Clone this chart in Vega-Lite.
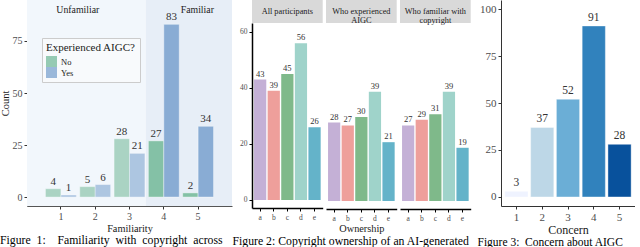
{
  "$schema": "https://vega.github.io/schema/vega-lite/v6.json",
  "padding": 0,
  "background": "#ffffff",
  "datasets": {
    "fam": [
      {"fam": "1", "exp": "No", "n": 4, "region": "Unfamiliar"},
      {"fam": "1", "exp": "Yes", "n": 1, "region": "Unfamiliar"},
      {"fam": "2", "exp": "No", "n": 5, "region": "Unfamiliar"},
      {"fam": "2", "exp": "Yes", "n": 6, "region": "Unfamiliar"},
      {"fam": "3", "exp": "No", "n": 28, "region": "Unfamiliar"},
      {"fam": "3", "exp": "Yes", "n": 21, "region": "Unfamiliar"},
      {"fam": "4", "exp": "No", "n": 27, "region": "Familiar"},
      {"fam": "4", "exp": "Yes", "n": 83, "region": "Familiar"},
      {"fam": "5", "exp": "No", "n": 2, "region": "Familiar"},
      {"fam": "5", "exp": "Yes", "n": 34, "region": "Familiar"}
    ],
    "own1": [
      {"opt": "a", "n": 43}, {"opt": "b", "n": 39}, {"opt": "c", "n": 45}, {"opt": "d", "n": 56}, {"opt": "e", "n": 26}
    ],
    "own2": [
      {"opt": "a", "n": 28}, {"opt": "b", "n": 27}, {"opt": "c", "n": 30}, {"opt": "d", "n": 39}, {"opt": "e", "n": 21}
    ],
    "own3": [
      {"opt": "a", "n": 27}, {"opt": "b", "n": 29}, {"opt": "c", "n": 31}, {"opt": "d", "n": 39}, {"opt": "e", "n": 19}
    ],
    "concern": [
      {"c": "1", "n": 3}, {"c": "2", "n": 37}, {"c": "3", "n": 52}, {"c": "4", "n": 91}, {"c": "5", "n": 28}
    ]
  },
  "config": {
    "font": "Liberation Serif",
    "view": {"stroke": null},
    "axis": {
      "labelFont": "Liberation Serif",
      "titleFont": "Liberation Serif",
      "labelColor": "#4d4d4d",
      "titleColor": "#1a1a1a",
      "titleFontWeight": "normal",
      "tickColor": "#333333",
      "domainColor": "#333333",
      "grid": false,
      "tickSize": 3,
      "labelPadding": 2,
      "titlePadding": 2
    },
    "title": {"font": "Liberation Serif", "fontWeight": "normal", "fontSize": 11.75, "color": "#000000"},
    "mark": {"font": "Liberation Serif"},
    "text": {"font": "Liberation Serif", "fontWeight": "normal"},
    "concat": {"spacing": 0}
  },
  "resolve": {"scale": {"color": "independent", "opacity": "independent"}, "legend": {"color": "independent"}},
  "hconcat": [
    {
      "width": 205,
      "height": 206,
      "title": {
        "text": "Figure\u00a0\u00a01:\u00a0\u00a0\u00a0\u00a0Familiarity\u00a0\u00a0with\u00a0\u00a0copyright\u00a0\u00a0across",
        "orient": "bottom", "anchor": "start", "offset": 2
      },
      "resolve": {"scale": {"x": "independent"}},
      "layer": [
        {
          "data": {"values": [
            {"x1": 0.04, "x2": 3.5, "region": "Unfamiliar"},
            {"x1": 3.5, "x2": 6.01, "region": "Familiar"}
          ]},
          "mark": {"type": "rect"},
          "encoding": {
            "x": {"field": "x1", "type": "quantitative", "scale": {"domain": [0.04, 6.01], "nice": false, "zero": false}, "axis": null},
            "x2": {"field": "x2"},
            "fill": {"field": "region", "type": "nominal", "scale": {"domain": ["Unfamiliar", "Familiar"], "range": ["#f2f7fc", "#e7eef7"]}, "legend": null}
          }
        },
        {
          "data": {"values": [
            {"lab": "Unfamiliar", "xpos": 1.52, "ypos": 90},
            {"lab": "Familiar", "xpos": 5.0, "ypos": 90}
          ]},
          "mark": {"type": "text", "font": "Liberation Serif", "fontSize": 9.8, "fill": "#1a1a1a"},
          "encoding": {
            "x": {"field": "xpos", "type": "quantitative", "scale": {"domain": [0.04, 6.01], "nice": false, "zero": false}, "axis": null},
            "y": {"field": "ypos", "type": "quantitative", "scale": {"domain": [-4.3, 94.7], "nice": false, "zero": false},
                  "axis": {"title": "Count", "values": [0, 25, 50, 75], "labelFontSize": 10, "titleFontSize": 10.5, "domainColor": "#555555"}},
            "text": {"field": "lab"}
          }
        },
        {
          "data": {"name": "fam"},
          "mark": {"type": "bar", "stroke": "#ffffff", "strokeWidth": 0.4},
          "encoding": {
            "x": {"field": "fam", "type": "ordinal", "scale": {"paddingInner": 0.1, "paddingOuter": 0.538},
                  "axis": {"title": "Familiarity", "labelAngle": 0, "labelFontSize": 10, "titleFontSize": 10.3, "domainColor": "#555555"}},
            "xOffset": {"field": "exp", "type": "nominal"},
            "y": {"field": "n", "type": "quantitative", "scale": {"domain": [-4.3, 94.7], "nice": false, "zero": false},
                  "axis": {"title": "Count", "values": [0, 25, 50, 75], "labelFontSize": 10, "titleFontSize": 10.5, "domainColor": "#555555"}},
            "color": {"field": "exp", "type": "nominal", "scale": {"domain": ["No", "Yes"], "range": ["#84c1a6", "#89acd4"]},
              "legend": {
                "orient": "none", "legendX": 15, "legendY": 38, "title": "Experienced AIGC?",
                "titleFont": "Liberation Serif", "titleFontSize": 11, "titleFontWeight": "normal", "titleColor": "#1a1a1a",
                "labelFont": "Liberation Serif", "labelFontSize": 8.5, "labelColor": "#1a1a1a",
                "symbolType": "square", "symbolSize": 121, "symbolStrokeWidth": 0, "symbolOpacity": 0.85,
                "rowPadding": 0, "padding": 4, "titlePadding": 3,
                "strokeColor": "#cccccc", "fillColor": "#f8fafc"
              }},
            "opacity": {"field": "region", "type": "nominal", "scale": {"domain": ["Unfamiliar", "Familiar"], "range": [0.65, 1]}, "legend": null}
          }
        },
        {
          "data": {"name": "fam"},
          "mark": {"type": "text", "font": "Liberation Serif", "dy": -7, "fontSize": 11, "fill": "#333333"},
          "encoding": {
            "x": {"field": "fam", "type": "ordinal", "scale": {"paddingInner": 0.1, "paddingOuter": 0.538}, "axis": null},
            "xOffset": {"field": "exp", "type": "nominal"},
            "y": {"field": "n", "type": "quantitative", "scale": {"domain": [-4.3, 94.7], "nice": false, "zero": false},
                  "axis": {"title": "Count", "values": [0, 25, 50, 75], "labelFontSize": 10, "titleFontSize": 10.5, "domainColor": "#555555"}},
            "text": {"field": "n"}
          }
        }
      ]
    },
    {
      "spacing": 6,
      "resolve": {"scale": {"color": "independent"}, "legend": {"color": "independent"}},
      "hconcat": [
        {
          "title": {
            "text": "Figure 2: Copyright ownership of an AI-generated",
            "orient": "bottom", "anchor": "start", "offset": 2, "dx": -7
          },
          "spacing": 3,
          "hconcat": [
            {
              "spacing": 0,
              "vconcat": [
                {
                  "width": 70.7, "height": 23,
                  "view": {"fill": "#d9d9d9", "stroke": null},
                  "data": {"values": [{"strip": "All participants"}]},
                  "mark": {"type": "text", "font": "Liberation Serif", "fontSize": 8.3, "fill": "#1a1a1a", "lineBreak": "\n"},
                  "encoding": {"text": {"field": "strip"}}
                },
                {
                  "width": 70.7, "height": 185,
                  "data": {"name": "own1"},
                  "layer": [
                    {
                      "mark": {"type": "bar"},
                      "encoding": {
                        "x": {"field": "opt", "type": "nominal", "scale": {"paddingInner": 0.1, "paddingOuter": 0.15},
                              "axis": {"title": null, "labelAngle": 0, "labelFontSize": 7.5, "domainColor": "#000000", "domainWidth": 1.5, "tickColor": "#000000"}},
                        "y": {"field": "n", "type": "quantitative", "scale": {"domain": [-2.86, 63.2], "nice": false, "zero": false},
                              "axis": {"title": null, "values": [0, 20, 40, 60], "labelFontSize": 7.5, "domainColor": "#000000", "domainWidth": 1.5, "tickColor": "#000000"}},
                        "color": {"field": "opt", "type": "nominal", "scale": {"domain": ["a", "b", "c", "d", "e"], "range": ["#c4b0d6", "#ee9f9b", "#7fb98a", "#9fd3ca", "#64b3c9"]}, "legend": null}
                      }
                    },
                    {
                      "mark": {"type": "text", "font": "Liberation Serif", "dy": -6, "fontSize": 8.5, "fill": "#333333"},
                      "encoding": {
                        "x": {"field": "opt", "type": "nominal"},
                        "y": {"field": "n", "type": "quantitative"},
                        "text": {"field": "n"}
                      }
                    }
                  ]
                }
              ]
            },
            {
              "spacing": 0,
              "vconcat": [
                {
                  "width": 70.7, "height": 23,
                  "view": {"fill": "#d9d9d9", "stroke": null},
                  "data": {"values": [{"strip": "Who experienced\nAIGC"}]},
                  "mark": {"type": "text", "font": "Liberation Serif", "fontSize": 8.3, "fill": "#1a1a1a", "lineBreak": "\n", "lineHeight": 9},
                  "encoding": {"text": {"field": "strip"}}
                },
                {
                  "width": 70.7, "height": 185,
                  "data": {"name": "own2"},
                  "layer": [
                    {
                      "mark": {"type": "bar"},
                      "encoding": {
                        "x": {"field": "opt", "type": "nominal", "scale": {"paddingInner": 0.1, "paddingOuter": 0.15},
                              "axis": {"title": "Ownership", "titleFontSize": 10.3, "labelAngle": 0, "labelFontSize": 7.5, "domainColor": "#000000", "domainWidth": 1.5, "tickColor": "#000000"}},
                        "y": {"field": "n", "type": "quantitative", "scale": {"domain": [-2.86, 63.2], "nice": false, "zero": false}, "axis": null},
                        "color": {"field": "opt", "type": "nominal", "scale": {"domain": ["a", "b", "c", "d", "e"], "range": ["#c4b0d6", "#ee9f9b", "#7fb98a", "#9fd3ca", "#64b3c9"]}, "legend": null}
                      }
                    },
                    {
                      "mark": {"type": "text", "font": "Liberation Serif", "dy": -6, "fontSize": 8.5, "fill": "#333333"},
                      "encoding": {
                        "x": {"field": "opt", "type": "nominal"},
                        "y": {"field": "n", "type": "quantitative"},
                        "text": {"field": "n"}
                      }
                    }
                  ]
                }
              ]
            },
            {
              "spacing": 0,
              "vconcat": [
                {
                  "width": 70.7, "height": 23,
                  "view": {"fill": "#d9d9d9", "stroke": null},
                  "data": {"values": [{"strip": "Who familiar with\ncopyright"}]},
                  "mark": {"type": "text", "font": "Liberation Serif", "fontSize": 8.3, "fill": "#1a1a1a", "lineBreak": "\n", "lineHeight": 9},
                  "encoding": {"text": {"field": "strip"}}
                },
                {
                  "width": 70.7, "height": 185,
                  "data": {"name": "own3"},
                  "layer": [
                    {
                      "mark": {"type": "bar"},
                      "encoding": {
                        "x": {"field": "opt", "type": "nominal", "scale": {"paddingInner": 0.1, "paddingOuter": 0.15},
                              "axis": {"title": null, "labelAngle": 0, "labelFontSize": 7.5, "domainColor": "#000000", "domainWidth": 1.5, "tickColor": "#000000"}},
                        "y": {"field": "n", "type": "quantitative", "scale": {"domain": [-2.86, 63.2], "nice": false, "zero": false}, "axis": null},
                        "color": {"field": "opt", "type": "nominal", "scale": {"domain": ["a", "b", "c", "d", "e"], "range": ["#c4b0d6", "#ee9f9b", "#7fb98a", "#9fd3ca", "#64b3c9"]}, "legend": null}
                      }
                    },
                    {
                      "mark": {"type": "text", "font": "Liberation Serif", "dy": -6, "fontSize": 8.5, "fill": "#333333"},
                      "encoding": {
                        "x": {"field": "opt", "type": "nominal"},
                        "y": {"field": "n", "type": "quantitative"},
                        "text": {"field": "n"}
                      }
                    }
                  ]
                }
              ]
            }
          ]
        },
        {
          "width": 134, "height": 206,
          "title": {
            "text": "Figure 3:\u00a0 Concern about AIGC",
            "orient": "bottom", "anchor": "start", "offset": 2, "dx": -2, "fontSize": 11.5
          },
          "data": {"name": "concern"},
          "layer": [
            {
              "mark": {"type": "bar", "stroke": "#ffffff", "strokeWidth": 0.4},
              "encoding": {
                "x": {"field": "c", "type": "ordinal", "scale": {"paddingInner": 0.1, "paddingOuter": 0.15},
                      "axis": {"title": "Concern", "titleFontSize": 12, "labelAngle": 0, "labelFontSize": 11}},
                "y": {"field": "n", "type": "quantitative", "scale": {"domain": [-4.8, 104.8], "nice": false, "zero": false},
                      "axis": {"title": null, "values": [0, 25, 50, 75, 100], "labelFontSize": 11}},
                "color": {"field": "c", "type": "ordinal", "scale": {"domain": ["1", "2", "3", "4", "5"], "range": ["#eff3ff", "#bdd7e7", "#6baed6", "#3182bd", "#08519c"]}, "legend": null}
              }
            },
            {
              "mark": {"type": "text", "font": "Liberation Serif", "dy": -8, "fontSize": 11.5, "fill": "#333333"},
              "encoding": {
                "x": {"field": "c", "type": "ordinal"},
                "y": {"field": "n", "type": "quantitative"},
                "text": {"field": "n"}
              }
            }
          ]
        }
      ]
    }
  ]
}
